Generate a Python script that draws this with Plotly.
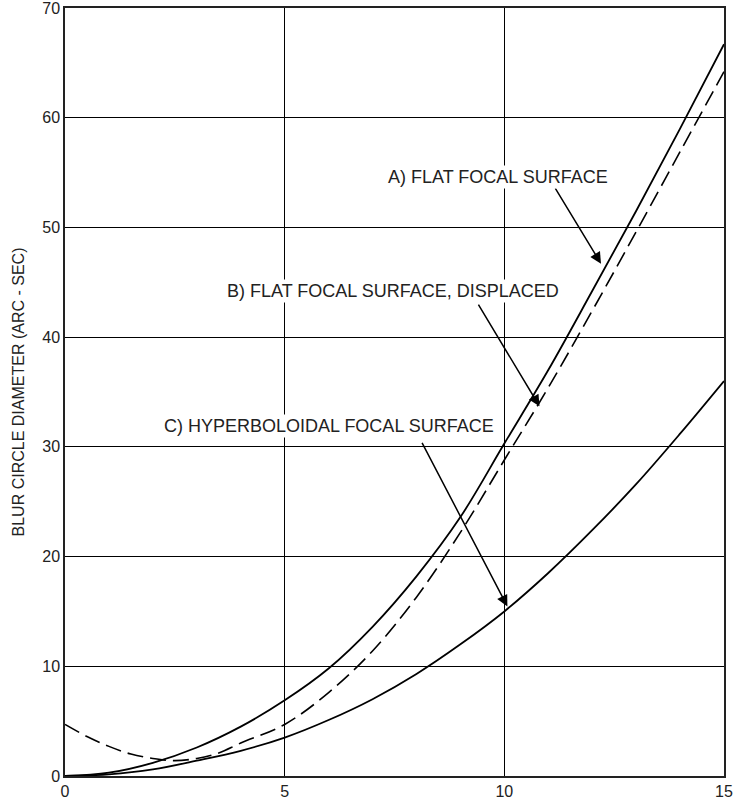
import plotly.graph_objects as go

# Field angle (x) values
x_vals = [0, 1, 2, 3, 4, 5, 6, 7, 8, 9, 10, 11, 12, 13, 14, 15]
# A) flat focal surface (solid, upper)
flat = [0, 0.3, 1.2, 2.6, 4.5, 6.9, 9.8, 13.6, 18.2, 23.6, 30.3, 37.0, 44.2, 51.5, 59.0, 66.7]
# C) hyperboloidal focal surface (solid, lower)
hyper = [0, 0.15, 0.6, 1.4, 2.3, 3.5, 5.1, 7.0, 9.3, 12.0, 15.0, 18.5, 22.4, 26.6, 31.2, 36.0]
# B) flat focal surface, displaced (dashed)
x_disp = [0, 0.5, 1, 1.5, 2, 2.5, 3, 3.5, 4, 5, 6, 7, 8, 9, 10, 11, 12, 13, 14, 15]
disp = [4.7, 3.6, 2.7, 2.0, 1.6, 1.4, 1.6, 2.1, 3.0, 4.7, 7.6, 11.4, 16.3, 22.2, 28.8, 35.4, 42.4, 49.6, 56.9, 64.2]

x_ticks = [0, 5, 10, 15]
y_ticks = [0, 10, 20, 30, 40, 50, 60, 70]

labels = ["A) FLAT FOCAL SURFACE", "B) FLAT FOCAL SURFACE, DISPLACED", "C) HYPERBOLOIDAL FOCAL SURFACE"]
label_pos = [(9.86, 54.6), (7.46, 44.2), (6.02, 31.9)]
arrow_tail = [(11.14, 53.7), (9.39, 43.1), (8.11, 30.5)]
arrow_tip = [(12.2, 46.7), (10.8, 33.7), (10.07, 15.45)]

FONT = "Liberation Sans, Arial, sans-serif"

fig = go.Figure()
fig.add_trace(go.Scatter(x=x_vals, y=flat, mode="lines", line=dict(color="black", width=1.8, shape="spline"), showlegend=False))
fig.add_trace(go.Scatter(x=x_disp, y=disp, mode="lines", line=dict(color="black", width=1.6, dash="16px,7px", shape="spline"), showlegend=False))
fig.add_trace(go.Scatter(x=x_vals, y=hyper, mode="lines", line=dict(color="black", width=1.8, shape="spline"), showlegend=False))

annotations = []
for (tx, ty), (hx, hy) in zip(arrow_tail, arrow_tip):
    annotations.append(dict(x=hx, y=hy, ax=tx, ay=ty, xref="x", yref="y", axref="x", ayref="y",
                            text="", showarrow=True, arrowhead=2, arrowsize=1.5, arrowwidth=1.5,
                            arrowcolor="black", standoff=0, startstandoff=0))
for lab, (lx, ly) in zip(labels, label_pos):
    annotations.append(dict(x=lx, y=ly, xref="x", yref="y", text=lab, showarrow=False,
                            font=dict(family=FONT, size=18, color="#222"), bgcolor="white",
                            borderpad=1))

fig.update_layout(
    width=735, height=800,
    margin=dict(l=65, r=11, t=8, b=24),
    paper_bgcolor="white", plot_bgcolor="white",
    font=dict(family=FONT, size=16, color="#222"),
    annotations=annotations,
    xaxis=dict(range=[0, 15], tickvals=x_ticks, ticktext=[str(v) for v in x_ticks],
               showgrid=True, gridcolor="black", gridwidth=1, zeroline=False,
               showline=True, linecolor="#222", linewidth=1.5, mirror=True, automargin=False,
               ticks="", tickfont=dict(size=16), ticklabeloverflow="allow"),
    yaxis=dict(range=[0, 70], tickvals=y_ticks, ticktext=[str(v) for v in y_ticks],
               showgrid=True, gridcolor="black", gridwidth=1, zeroline=False,
               showline=True, linecolor="#222", linewidth=1.5, mirror=True, automargin=False,
               ticks="", tickfont=dict(size=16), ticklabeloverflow="allow",
               title=dict(text="BLUR CIRCLE DIAMETER (ARC - SEC)", font=dict(size=16), standoff=14)),
)

fig.write_html("out.html")
